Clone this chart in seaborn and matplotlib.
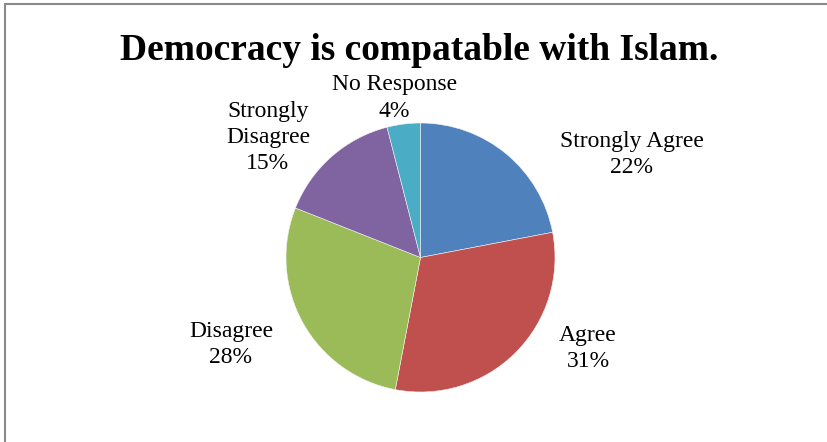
import matplotlib
matplotlib.use("Agg")
import matplotlib.pyplot as plt
from matplotlib.lines import Line2D
import seaborn as sns

# Survey responses
categories = ["Strongly Agree", "Agree", "Disagree", "Strongly Disagree", "No Response"]
label_text = ["Strongly Agree", "Agree", "Disagree", "Strongly\nDisagree", "No Response"]
percentages = [22, 31, 28, 15, 4]
title = "Democracy is compatable with Islam."

sns.set_theme(style="white")
plt.rcParams["font.family"] = ["Liberation Serif", "DejaVu Serif"]

palette = sns.color_palette(["#4F81BD", "#C0504D", "#9BBB59", "#8064A2", "#4BACC6"])

W, H = 827, 442
fig = plt.figure(figsize=(W / 100, H / 100), dpi=100)
fig.patch.set_facecolor("white")

# pie placement in pixels
cx, cy, r = 420.5, 442 - 257.5, 134.5
half = r * 1.25
ax = fig.add_axes([(cx - half) / W, (cy - half) / H, 2 * half / W, 2 * half / H])

ax.pie(percentages, colors=palette, startangle=90, counterclock=False,
       radius=1.0, wedgeprops=dict(edgecolor="#f4f4f4", linewidth=0.4))
ax.set_xlim(-1.25, 1.25)
ax.set_ylim(-1.25, 1.25)
ax.set_aspect("equal")
ax.axis("off")

# label anchors in pie-radius units
label_pos = [(1.572, 0.765), (1.245, -0.675), (-1.409, -0.645),
             (-1.134, 0.893), (-0.193, 1.185)]
for txt, pct, (lx, ly) in zip(label_text, percentages, label_pos):
    ax.text(lx, ly, f"{txt}\n{pct}%", ha="center", va="center",
            fontsize=17, linespacing=1.33, color="black")

fig.text(419 / W, 1 - 59.5 / H, title, ha="center", va="baseline",
         fontsize=27, fontweight="bold", color="black")

# chart frame (top and left edges)
fig.add_artist(Line2D([4.5 / W, 1.0], [1 - 4 / H, 1 - 4 / H],
                      transform=fig.transFigure, color="#8a8a8a", linewidth=1.5))
fig.add_artist(Line2D([4.5 / W, 4.5 / W], [0, 1 - 4 / H],
                      transform=fig.transFigure, color="#8a8a8a", linewidth=1.5))

fig.savefig("out.png", dpi=100, facecolor="white")
